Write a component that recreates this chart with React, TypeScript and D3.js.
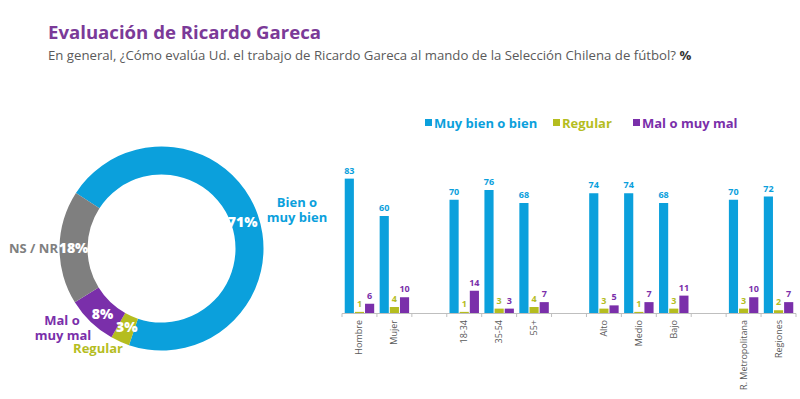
import React from "react";
import * as d3 from "d3";

const donutLabels = ["Bien o muy bien", "Regular", "Mal o muy mal", "NS / NR"];
const donutValues = [71, 3, 8, 18];

const categories = ["Hombre", "Mujer", "", "18-34", "35-54", "55+", "", "Alto", "Medio", "Bajo", "", "R. Metropolitana", "Regiones"];
const seriesNames = ["Muy bien o bien", "Regular", "Mal o muy mal"];
const muyBien = [83, 60, null, 70, 76, 68, null, 74, 74, 68, null, 70, 72];
const regular = [1, 4, null, 1, 3, 4, null, 3, 1, 3, null, 3, 2];
const malo = [6, 10, null, 14, 3, 7, null, 5, 7, 11, null, 10, 7];

const BLUE = "#0BA0DC";
const GREEN = "#B5BD1F";
const PURPLE = "#7A2FAA";
const GRAY = "#7F7F7F";
const donutColors = [BLUE, GREEN, PURPLE, GRAY];
const seriesColors = [BLUE, GREEN, PURPLE];
const FONT = "'Open Sans', 'DejaVu Sans', sans-serif";

export default function App() {
  const W = 800, H = 399;
  // donut
  const cx = 161.5, cy = 248.5, rOut = 102, rIn = 74;
  const start = (-57 * Math.PI) / 180;
  const pie = d3.pie<number>().sort(null).value((d) => d).startAngle(start).endAngle(start + 2 * Math.PI);
  const arcs = pie(donutValues);
  const arc = d3.arc<d3.PieArcDatum<number>>().innerRadius(rIn).outerRadius(rOut);
  const labelArc = d3.arc<d3.PieArcDatum<number>>().innerRadius((rIn + rOut) / 2).outerRadius((rIn + rOut) / 2);

  // bars
  const x0 = d3.scaleBand<number>().domain(categories.map((_, i) => i)).range([342, 796]).paddingInner(0).paddingOuter(0);
  const x1 = d3.scaleBand<number>().domain([0, 1, 2]).range([0, x0.bandwidth()]).paddingOuter(0.22).paddingInner(0);
  const y = d3.scaleLinear().domain([0, 100]).range([313.5, 151]);
  const series = [muyBien, regular, malo];

  return (
    <svg width={W} height={H} style={{ position: "absolute", left: 0, top: 0, background: "#fff" }} fontFamily={FONT}>
      <text x={48} y={39} fontSize={18.6} fontWeight={700} fill="#7B3A98">Evaluación de Ricardo Gareca</text>
      <text x={48} y={60} fontSize={13.2} fill="#5a5a5a">
        En general, ¿Cómo evalúa Ud. el trabajo de Ricardo Gareca al mando de la Selección Chilena de fútbol? <tspan fontWeight={700} fill="#333">%</tspan>
      </text>

      <g transform={`translate(${cx},${cy})`}>
        {arcs.map((a, i) => (
          <path key={i} d={arc(a) || ""} fill={donutColors[i]} />
        ))}
        {arcs.map((a, i) => {
          const [lx, ly] = labelArc.centroid(a);
          const offs = [[-2, 2], [1, -2], [2, 1], [0, 0]][i];
          return (
            <text key={"l" + i} x={lx + offs[0]} y={ly + offs[1]} textAnchor="middle" dominantBaseline="central" fontSize={14} fontWeight={800} fill="#fff">
              {donutValues[i]}%
            </text>
          );
        })}
      </g>
      <text textAnchor="middle" fontSize={13} fontWeight={700} fill={BLUE}>
        <tspan x={297} y={207}>Bien o</tspan>
        <tspan x={297} y={222}>muy bien</tspan>
      </text>
      <text x={58} y={253} textAnchor="end" fontSize={13} fontWeight={700} fill={GRAY}>NS / NR</text>
      <text textAnchor="middle" fontSize={13} fontWeight={700} fill={PURPLE}>
        <tspan x={62} y={325}>Mal o</tspan>
        <tspan x={63} y={340}>muy mal</tspan>
      </text>
      <text x={98} y={353} textAnchor="middle" fontSize={13} fontWeight={700} fill={GREEN}>Regular</text>

      {/* legend */}
      {seriesNames.map((s, i) => {
        const lx = [425, 553, 633][i];
        return (
          <g key={s}>
            <rect x={lx} y={119} width={7} height={7} fill={seriesColors[i]} />
            <text x={lx + 9} y={127.5} fontSize={13} fontWeight={700} fill={seriesColors[i]}>{s}</text>
          </g>
        );
      })}

      {/* bars */}
      {categories.map((c, ci) => (
        <g key={ci} transform={`translate(${x0(ci)},0)`}>
          {series.map((ser, si) => {
            const v = ser[ci];
            if (v == null) return null;
            const bx = x1(si)!;
            const bw = x1.bandwidth();
            return (
              <g key={si}>
                <rect x={bx + 0.5} y={y(v)} width={bw - 1} height={y(0) - y(v)} fill={seriesColors[si]} />
                <text x={bx + bw / 2} y={y(v) - 5} textAnchor="middle" fontSize={9} fontWeight={700} fill={seriesColors[si]}>{v}</text>
              </g>
            );
          })}
        </g>
      ))}
      <line x1={342} x2={796} y1={313.5} y2={313.5} stroke="#bfbfbf" strokeWidth={1} />
      {categories.map((_, i) => (
        <line key={"t" + i} x1={x0(i)!} x2={x0(i)!} y1={313.5} y2={317} stroke="#bfbfbf" />
      ))}
      <line x1={796} x2={796} y1={313.5} y2={317} stroke="#bfbfbf" />
      {categories.map((c, i) => (
        <text key={"c" + i} transform={`translate(${x0(i)! + x0.bandwidth() / 2 + 3},${320}) rotate(-90)`} textAnchor="end" fontSize={9} fill="#595959">{c}</text>
      ))}
    </svg>
  );
}
